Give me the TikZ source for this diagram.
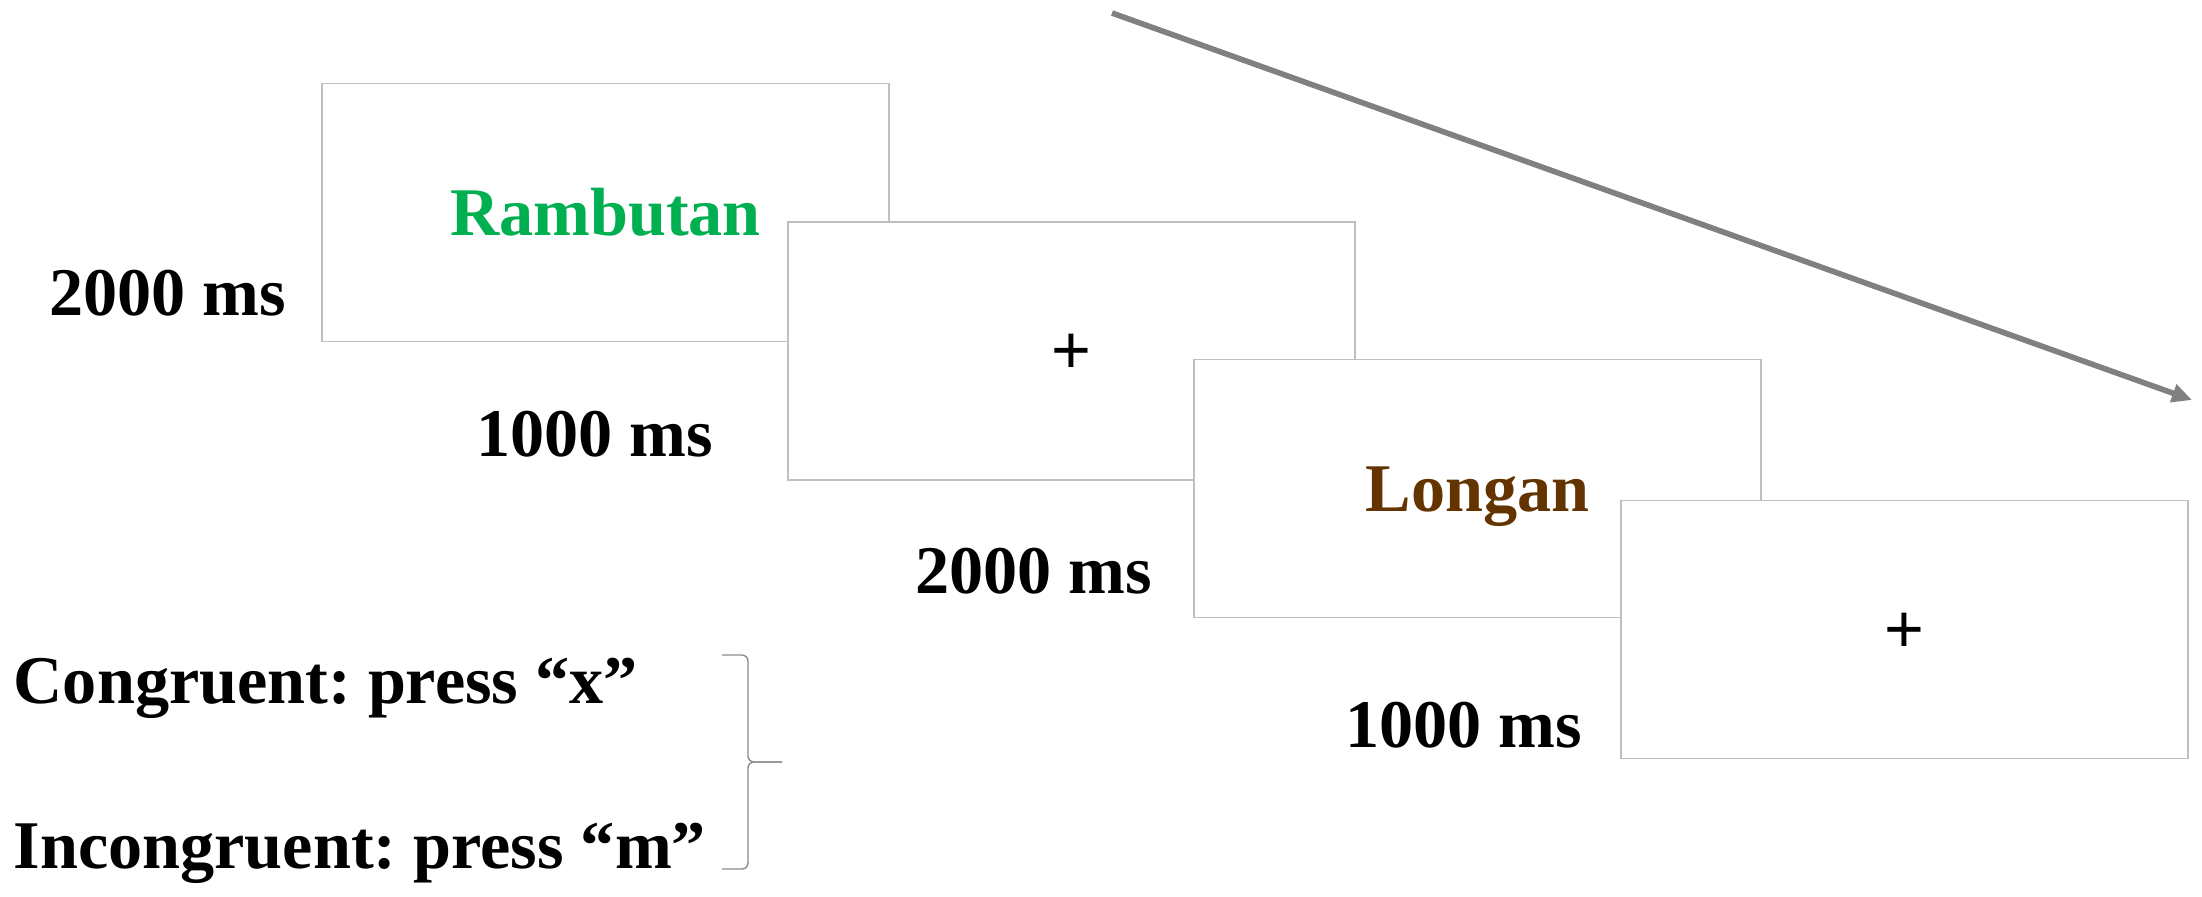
\documentclass[tikz,border=0pt]{standalone}
\usepackage{fontspec}
\setmainfont{Liberation Serif}
\newfontfamily\plusfont{Liberation Sans}
\usepackage{tikz}
\usetikzlibrary{arrows.meta}
\tikzset{>={Triangle[width=1.8mm,length=2mm]}}
\definecolor{wordgreen}{RGB}{0,176,80}
\definecolor{wordbrown}{RGB}{99,51,0}
\frenchspacing

\begin{document}
\begin{tikzpicture}[x=0.01cm, y=-0.01cm, screen/.style={rectangle, draw=black!25, fill=white, line width=0.5pt, minimum width=5.67cm, minimum height=2.58cm, inner sep=0pt, text height=0.45cm, text depth=0pt}, word/.style={screen, font=\fontsize{19.4}{23}\selectfont\bfseries}, fix/.style={screen, font=\fontsize{19.4}{23}\selectfont\plusfont}, timetext/.style={anchor=base east, inner sep=0pt, font=\fontsize{19.4}{23}\selectfont\bfseries}, keytext/.style={anchor=base west, inner sep=0pt, font=\fontsize{19.4}{23}\selectfont\bfseries}]
    \useasboundingbox (0,0) rectangle (2202,896);

    %Nodes
    \node[word, text=wordgreen](prime) at (605.5,212.5){Rambutan};
    \node[fix](fixone) at (1071.5,351){+};
    \node[word, text=wordbrown](target) at (1477.5,488.5){Longan};
    \node[fix](fixtwo) at (1904.5,629.5){+};
    \node[timetext](tprime) at (287,315){2000 ms};
    \node[timetext](tfixone) at (714,456){1000 ms};
    \node[timetext](ttarget) at (1153,593){2000 ms};
    \node[timetext](tfixtwo) at (1583,747){1000 ms};
    \node[keytext](congruent) at (13,703){Congruent: press “x”};
    \node[keytext](incongruent) at (13,868){Incongruent: press “m”};
    \coordinate (timestart) at (1112,13);
    \coordinate (timeend) at (2192,400);
    \coordinate (bracetop) at (722,655);
    \coordinate (bracebot) at (722,869);
    \coordinate (bracetip) at (782,762);

    %Lines
    \draw[->, draw=black!50, fill=black!50, line width=1.6pt] (timestart) -- (timeend);
    \draw[black!45, line width=0.4pt, rounded corners=0.06cm] (bracetop) -- ++(26,0) |- (bracetip);
    \draw[black!45, line width=0.4pt, rounded corners=0.06cm] (bracebot) -- ++(26,0) |- (bracetip);

\end{tikzpicture}
\end{document}
